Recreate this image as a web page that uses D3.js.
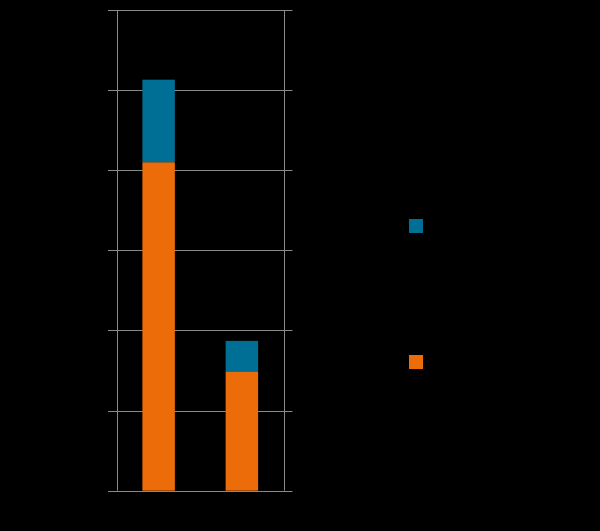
<!DOCTYPE html>
<html>
<head>
<meta charset="utf-8">
<script src="https://cdn.jsdelivr.net/npm/d3@7"></script>
<style>
  html, body { margin: 0; padding: 0; background: #000; }
  svg { display: block; }
</style>
</head>
<body>
<svg id="chart" width="600" height="531"></svg>
<script>
// ---- data ----
const categories = ["A", "B"];
const seriesNames = ["Series 1", "Series 2"];
const orangeValues = [41.0, 14.9];   // bottom segment
const blueValues = [10.3, 3.8];      // top segment
const yTicks = [0, 10, 20, 30, 40, 50, 60];

const colors = { "Series 1": "#EC6C0A", "Series 2": "#006F96" };

(function () {
  const svg = d3.select("#chart");
  const plotLeft = 117, plotRight = 283.5, plotTop = 10, plotBottom = 490.7;

  const x = d3.scaleBand().domain(categories).range([plotLeft, plotRight])
    .paddingInner(0.61).paddingOuter(0.305);
  const y = d3.scaleLinear().domain([0, 60]).range([plotBottom, plotTop]);

  const table = categories.map((c, i) => ({ cat: c, "Series 1": orangeValues[i], "Series 2": blueValues[i] }));
  const stacked = d3.stack().keys(seriesNames)(table);

  // gridlines with tick stubs extending to both sides
  svg.append("g")
    .selectAll("line")
    .data(yTicks)
    .join("line")
    .attr("x1", plotLeft - 9).attr("x2", plotRight + 9)
    .attr("y1", d => Math.round(y(d)) + 0.5).attr("y2", d => Math.round(y(d)) + 0.5)
    .attr("stroke", "#8a8a8a").attr("stroke-width", 1);

  // vertical axis lines
  svg.append("g").selectAll("line")
    .data([plotLeft, plotRight])
    .join("line")
    .attr("x1", d => Math.round(d) + 0.5).attr("x2", d => Math.round(d) + 0.5)
    .attr("y1", plotTop).attr("y2", plotBottom)
    .attr("stroke", "#8a8a8a").attr("stroke-width", 1);

  // bars
  svg.append("g").selectAll("g")
    .data(stacked)
    .join("g")
    .attr("fill", d => colors[d.key])
    .selectAll("rect")
    .data(d => d)
    .join("rect")
    .attr("x", d => x(d.data.cat))
    .attr("width", x.bandwidth())
    .attr("y", d => y(d[1]))
    .attr("height", d => y(d[0]) - y(d[1]));

  // legend (top series first)
  const legendItems = ["Series 2", "Series 1"];
  const legendY = d3.scalePoint().domain(legendItems).range([219, 355]);
  svg.append("g").selectAll("rect")
    .data(legendItems)
    .join("rect")
    .attr("x", 409).attr("y", d => legendY(d))
    .attr("width", 14).attr("height", 14)
    .attr("fill", d => colors[d]);
})();
</script>
</body>
</html>
